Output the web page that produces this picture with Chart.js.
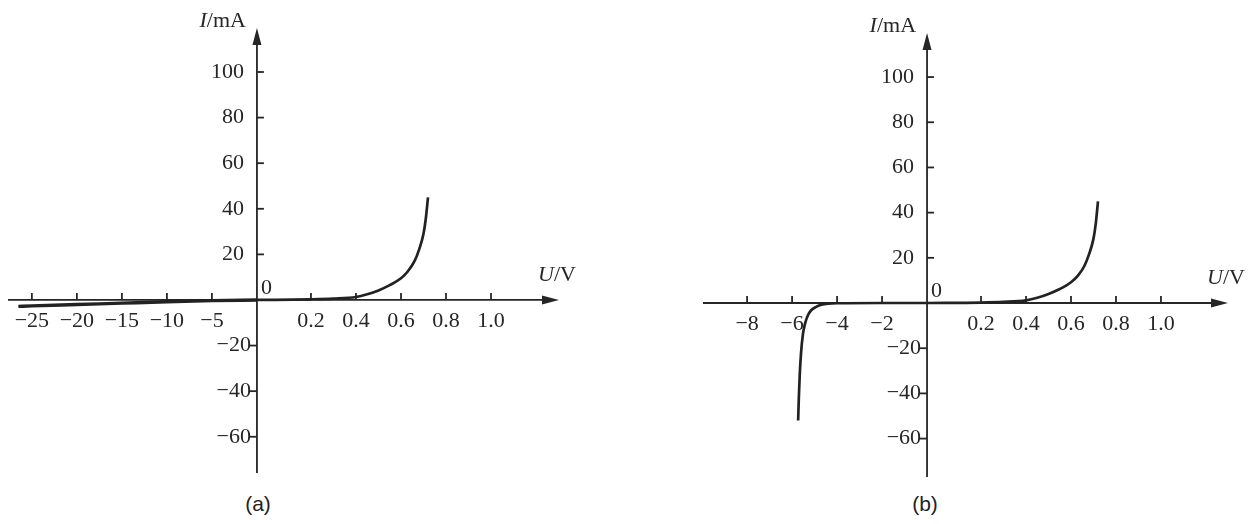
<!DOCTYPE html>
<html>
<head>
<meta charset="utf-8">
<title>Diode I-U curves</title>
<script src="https://cdn.jsdelivr.net/npm/chart.js@4.4.1/dist/chart.umd.min.js"></script>
<style>
  html, body { margin: 0; padding: 0; background: #fff; }
  #page { position: relative; width: 1255px; height: 524px; overflow: hidden; }
  .panel { position: absolute; top: 0; height: 490px; }
  #panel-a { left: 0; width: 627px; }
  #panel-b { left: 627px; width: 628px; }
  .caption {
    position: absolute; top: 492px;
    font: 21px "Liberation Sans", Arial, sans-serif; color: #222;
    transform: translateX(-50%);
  }
</style>
</head>
<body>
<div id="page">
  <div class="panel" id="panel-a"><canvas id="chart-a"></canvas></div>
  <div class="panel" id="panel-b"><canvas id="chart-b"></canvas></div>
  <div class="caption" style="left:258px">(a)</div>
  <div class="caption" style="left:925px">(b)</div>
</div>
<script>
// (a) ordinary diode: small reverse leakage, forward knee near 0.5 V
const voltRevA = [-26.5, -25, -20, -15, -10, -5, 0];
const currRevA = [-2.8, -2.6, -2.0, -1.4, -0.8, -0.3, 0];
const voltFwdA = [0, 0.2, 0.3, 0.4, 0.45, 0.5, 0.55, 0.6, 0.63, 0.66, 0.68, 0.7, 0.71, 0.72];
const currFwdA = [0, 0.3, 0.6, 1.3, 2.5, 4.2, 6.5, 9.5, 12.5, 17, 22, 29, 35.5, 45];

// (b) zener diode: breakdown around -5 V
const voltRevB = [-5.73, -5.7, -5.66, -5.6, -5.52, -5.42, -5.3, -5.15, -4.95, -4.7, -4.4, -4, -2, 0];
const currRevB = [-52, -42, -32, -22, -14, -9, -5.5, -3.2, -1.8, -0.8, -0.3, -0.1, 0, 0];
const voltFwdB = [0, 0.2, 0.3, 0.4, 0.45, 0.5, 0.55, 0.6, 0.63, 0.66, 0.68, 0.7, 0.71, 0.72];
const currFwdB = [0, 0.2, 0.5, 1.2, 2.3, 4, 6.2, 9.2, 12, 16.5, 21.5, 28.5, 35, 45];

// tick labels
const voltTicksA = [-25, -20, -15, -10, -5, 0.2, 0.4, 0.6, 0.8, 1.0];
const voltTicksB = [-8, -6, -4, -2, 0.2, 0.4, 0.6, 0.8, 1.0];
const currTicks = [-60, -40, -20, 20, 40, 60, 80, 100];

// The U axis is split: left of zero one division is negStep volts,
// right of zero one division is 0.2 V (the first one drawn a little wider).
function axisPos(v, negStep) {
  if (v <= 0) return v / negStep;
  if (v <= 0.2) return v / 0.2 * 1.2;
  return 1.2 + (v - 0.2) / 0.2;
}

function fmtVolt(v) {
  return v < 0 ? '\u2212' + Math.abs(v) : v.toFixed(1);
}

const SERIF = '"Liberation Serif", "Times New Roman", serif';
const INK = '#262626';
const FONT_PX = 22;

// italic symbol + upright unit, e.g. I/mA
function drawQuantity(ctx, sym, unit, x, y, align) {
  ctx.font = 'italic ' + FONT_PX + 'px ' + SERIF;
  const w1 = ctx.measureText(sym).width;
  ctx.font = FONT_PX + 'px ' + SERIF;
  const w2 = ctx.measureText(unit).width;
  let left = x;
  if (align === 'right') left = x - w1 - w2;
  if (align === 'center') left = x - (w1 + w2) / 2;
  ctx.textAlign = 'left';
  ctx.font = 'italic ' + FONT_PX + 'px ' + SERIF;
  ctx.fillText(sym, left, y);
  ctx.font = FONT_PX + 'px ' + SERIF;
  ctx.fillText(unit, left + w1, y);
}

const ivAxes = {
  id: 'ivAxes',
  beforeDatasetsDraw(chart, args, opts) {
    const ctx = chart.ctx;
    const xs = chart.scales.x, ys = chart.scales.y, area = chart.chartArea;
    const x0 = xs.getPixelForValue(0), y0 = ys.getPixelForValue(0);
    ctx.save();
    ctx.strokeStyle = INK;
    ctx.fillStyle = INK;
    ctx.lineWidth = 1.8;

    // axis lines
    ctx.beginPath();
    ctx.moveTo(area.left, y0); ctx.lineTo(area.right - 10, y0);
    ctx.moveTo(x0, area.bottom); ctx.lineTo(x0, area.top + 10);
    ctx.stroke();

    // arrow heads
    ctx.beginPath();
    ctx.moveTo(area.right, y0);
    ctx.lineTo(area.right - 17, y0 - 4.5);
    ctx.lineTo(area.right - 17, y0 + 4.5);
    ctx.closePath();
    ctx.moveTo(x0, area.top);
    ctx.lineTo(x0 - 4.5, area.top + 17);
    ctx.lineTo(x0 + 4.5, area.top + 17);
    ctx.closePath();
    ctx.fill();

    ctx.font = FONT_PX + 'px ' + SERIF;
    ctx.textBaseline = 'middle';

    // U ticks: marks above the axis, labels below
    ctx.textAlign = 'center';
    opts.voltTicks.forEach(v => {
      const px = xs.getPixelForValue(axisPos(v, opts.negStep));
      ctx.beginPath();
      ctx.moveTo(px, y0); ctx.lineTo(px, y0 - 7);
      ctx.stroke();
      ctx.fillText(fmtVolt(v), px, y0 + 21);
    });

    // I ticks
    ctx.textAlign = 'right';
    currTicks.forEach(c => {
      const py = ys.getPixelForValue(c);
      ctx.beginPath();
      if (c > 0) {
        ctx.moveTo(x0, py); ctx.lineTo(x0 + 7, py);
      } else {
        ctx.moveTo(x0 - 7, py); ctx.lineTo(x0, py);
      }
      ctx.stroke();
      ctx.fillText(c < 0 ? '\u2212' + Math.abs(c) : String(c), c > 0 ? x0 - 13 : x0 - 6, py);
    });

    // origin
    ctx.textAlign = 'left';
    ctx.fillText('0', x0 + 4, y0 - 12);

    // axis titles
    drawQuantity(ctx, 'I', '/mA', x0 - 11, area.top - 7, 'right');
    drawQuantity(ctx, 'U', '/V', area.right - 2, y0 - 25, 'center');
    ctx.restore();
  }
};

function toPoints(volts, currents, negStep) {
  return volts.map((v, i) => ({ x: axisPos(v, negStep), y: currents[i] }));
}

function curve(points, width) {
  return {
    data: points,
    borderColor: '#222',
    borderWidth: width,
    pointRadius: 0,
    fill: false,
    cubicInterpolationMode: 'monotone'
  };
}

function buildChart(canvasId, cfg) {
  return new Chart(document.getElementById(canvasId), {
    type: 'line',
    data: {
      datasets: [
        curve(toPoints(cfg.revV, cfg.revI, cfg.negStep), cfg.revWidth),
        curve(toPoints(cfg.fwdV, cfg.fwdI, cfg.negStep), 2.7)
      ]
    },
    options: {
      responsive: true,
      maintainAspectRatio: false,
      animation: false,
      events: [],
      layout: { padding: cfg.padding },
      plugins: {
        legend: { display: false },
        tooltip: { enabled: false },
        ivAxes: { voltTicks: cfg.voltTicks, negStep: cfg.negStep }
      },
      scales: {
        x: { type: 'linear', display: false, min: cfg.xMin, max: cfg.xMax },
        y: { type: 'linear', display: false, min: cfg.yMin, max: cfg.yMax }
      }
    },
    plugins: [ivAxes]
  });
}

buildChart('chart-a', {
  revV: voltRevA, revI: currRevA, fwdV: voltFwdA, fwdI: currFwdA,
  negStep: 5, voltTicks: voltTicksA, revWidth: 3.4,
  xMin: -5.53, xMax: 6.71, yMin: -75.9, yMax: 119.3,
  padding: { left: 8, right: 68, top: 28, bottom: 17 }
});

buildChart('chart-b', {
  revV: voltRevB, revI: currRevB, fwdV: voltFwdB, fwdI: currFwdB,
  negStep: 2, voltTicks: voltTicksB, revWidth: 2.7,
  xMin: -4.98, xMax: 6.69, yMin: -77, yMax: 119.5,
  padding: { left: 76, right: 27, top: 33, bottom: 13 }
});
</script>
</body>
</html>
